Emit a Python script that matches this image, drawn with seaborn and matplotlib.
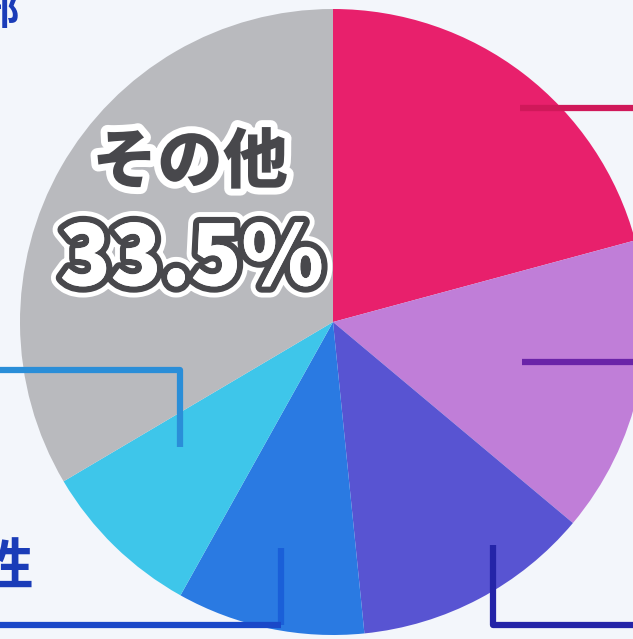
import matplotlib
matplotlib.use("Agg")
import matplotlib.pyplot as plt
import matplotlib.patheffects as pe
import seaborn as sns

# ---- data ----
categories = ["A", "B", "C", "D", "E", "その他"]
shares = [20.8, 15.3, 12.3, 9.7, 8.4, 33.5]
slice_colors = ["#e8206c", "#c07ed8", "#5854d2", "#2a7ae2", "#3ec6ea", "#b9babe"]
other_label = "その他"
other_value_text = "33.5%"

sns.set_theme(style="white")
plt.rcParams["font.family"] = ["Noto Sans CJK JP", "DejaVu Sans"]

W, H = 633, 639
bg = "#f3f6fb"
fig = plt.figure(figsize=(W / 100, H / 100), dpi=100, facecolor=bg)
ax = fig.add_axes([0, 0, 1, 1])
ax.set_facecolor(bg)

def Y(y):
    return H - y

cx, cy, r = 333, Y(322), 313
ax.pie(shares, colors=slice_colors, startangle=90, counterclock=False,
       center=(cx, cy), radius=r, wedgeprops=dict(linewidth=0))

ax.set_xlim(0, W)
ax.set_ylim(0, H)
ax.set_aspect("equal")
ax.axis("off")

lw = 4.5
# leader lines
ax.plot([520, W + 5], [Y(108), Y(108)], color="#d0185a", lw=lw, solid_capstyle="butt")
ax.plot([522, W + 5], [Y(362), Y(362)], color="#6a24a8", lw=lw, solid_capstyle="butt")
ax.plot([493, 493, W + 5], [Y(545), Y(625), Y(625)], color="#2424a8", lw=lw,
        solid_joinstyle="round", solid_capstyle="butt")
ax.plot([281, 281], [Y(548), Y(625)], color="#1a5fd8", lw=lw, solid_capstyle="butt")
ax.plot([-5, 281], [Y(625), Y(625)], color="#1a48c8", lw=lw, solid_capstyle="butt")
ax.plot([180, 180, -5], [Y(447), Y(370), Y(370)], color="#2a8ed8", lw=lw,
        solid_joinstyle="round", solid_capstyle="butt")

# label in the grey slice
ax.text(190, Y(163), other_label, ha="center", va="center", fontsize=47,
        fontweight="black", color="#48484c",
        path_effects=[pe.withStroke(linewidth=10, foreground="white")])
ax.text(192, Y(260), other_value_text, ha="center", va="center", fontsize=60,
        fontweight="black", color="white",
        path_effects=[pe.withStroke(linewidth=16, foreground="white"),
                      pe.withStroke(linewidth=9, foreground="#48484c"),
                      pe.Normal()])

# partial outside labels cut by the frame (as in the reference)
ax.text(33, Y(568), "性", ha="right", va="center", fontsize=40,
        fontweight="bold", color="#1a3cb8")
ax.text(-22, Y(12), "部", ha="left", va="center", fontsize=30,
        fontweight="bold", color="#1a3cb8")

fig.savefig("out.png", dpi=100, facecolor=bg)
